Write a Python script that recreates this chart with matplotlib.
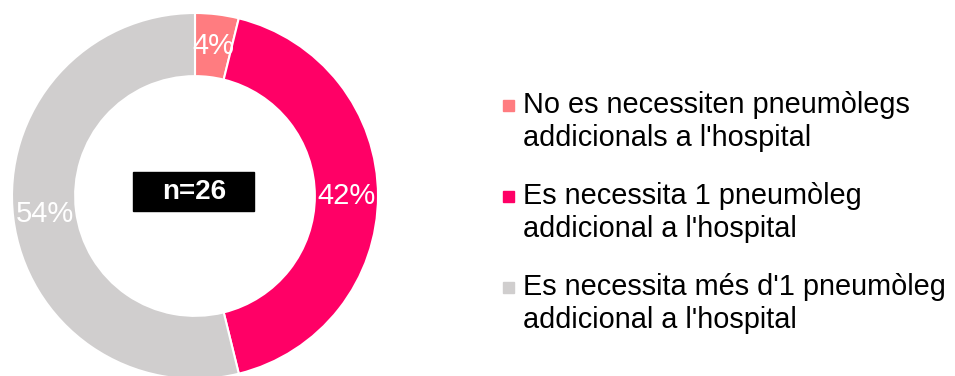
import matplotlib.pyplot as plt
from matplotlib.patches import Rectangle

plt.rcParams['font.family'] = ['Liberation Sans', 'DejaVu Sans']

# Dades (n=26)
categories = [
    "No es necessiten pneumòlegs\naddicionals a l'hospital",
    "Es necessita 1 pneumòleg\naddicional a l'hospital",
    "Es necessita més d'1 pneumòleg\naddicional a l'hospital",
]
counts = [1, 11, 14]
colors = ['#FF7C80', '#FF0066', '#D0CECE']
n_total = sum(counts)

W, H = 955, 376
fig = plt.figure(figsize=(W / 100, H / 100), dpi=100)

# Donut
cx, cy, r = 195, 196, 183
ax = fig.add_axes([(cx - r) / W, (H - cy - r) / H, 2 * r / W, 2 * r / H])
wedges, texts, autotexts = ax.pie(
    counts, colors=colors, startangle=90, counterclock=False,
    autopct='%.0f%%', pctdistance=0.828, radius=1,
    wedgeprops=dict(width=0.345, edgecolor='white', linewidth=1.5),
    textprops=dict(color='white', fontsize=21))
ax.set_xlim(-1, 1)
ax.set_ylim(-1, 1)
ax.set_aspect('equal')
ax.axis('off')

# Capa en píxels per a l'etiqueta central i la llegenda
ov = fig.add_axes([0, 0, 1, 1])
ov.set_xlim(0, W)
ov.set_ylim(H, 0)
ov.axis('off')
ov.patch.set_alpha(0)

ov.add_patch(Rectangle((133, 172), 121, 39, color='black'))
ov.text(194, 192, f"n={n_total}", color='white', fontsize=20, fontweight='bold',
        ha='center', va='center')

baselines = [113, 204, 295]
for lab, col, yb in zip(categories, colors, baselines):
    ov.add_patch(Rectangle((503, yb - 13), 11, 11, color=col))
    for j, line in enumerate(lab.split('\n')):
        ov.text(523, yb + j * 33, line, fontsize=20.8, color='black',
                ha='left', va='baseline')

fig.savefig('out.png', dpi=100)
